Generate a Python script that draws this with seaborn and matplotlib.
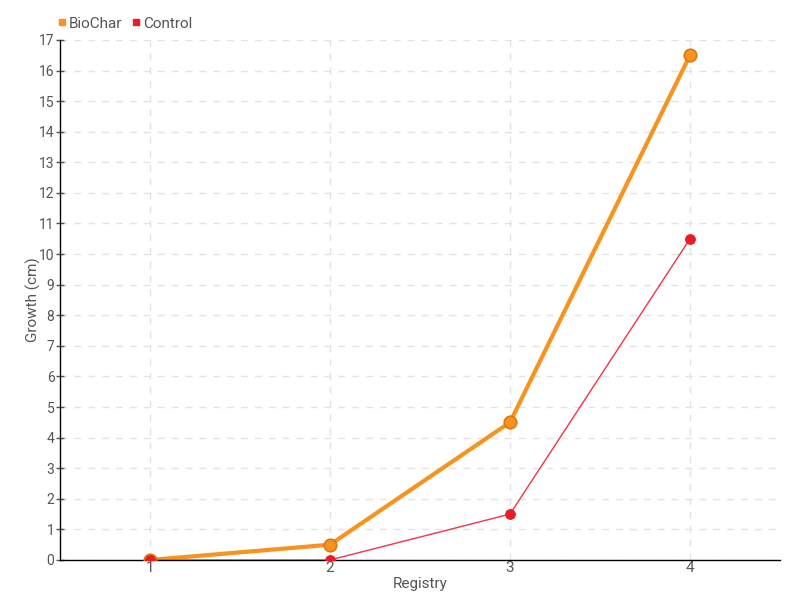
import matplotlib
matplotlib.use("Agg")
import matplotlib.pyplot as plt
import seaborn as sns
import pandas as pd
from matplotlib.lines import Line2D

registry = [1, 2, 3, 4]
biochar = [0, 0.5, 4.5, 16.5]
control = [0, 0, 1.5, 10.5]
series_names = ["BioChar", "Control"]
colors = {"BioChar": "#F7931E", "Control": "#ED1C24"}

df = pd.DataFrame({
    "Registry": registry * 2,
    "Growth": biochar + control,
    "Series": ["BioChar"] * 4 + ["Control"] * 4,
})

sns.set_style("white")
plt.rcParams["font.family"] = ["Roboto", "DejaVu Sans"]

fig = plt.figure(figsize=(8, 6), dpi=100)
ax = fig.add_axes([0.075, 0.0667, 0.9, 0.8667])

sns.lineplot(data=df[df.Series == "BioChar"], x="Registry", y="Growth", ax=ax,
             color=colors["BioChar"], linewidth=3, marker="o", markersize=9,
             markeredgecolor="#D77A12", markeredgewidth=1.2, zorder=3)
sns.lineplot(data=df[df.Series == "Control"], x="Registry", y="Growth", ax=ax,
             color="#F2334A", linewidth=1, marker="o", markersize=7,
             markerfacecolor=colors["Control"], markeredgecolor=colors["Control"], zorder=4)

ax.set_xlim(0.5, 4.5)
ax.set_ylim(0, 17)
ax.set_xticks(registry)
ax.set_xticklabels([str(r) for r in registry])
ax.set_yticks(range(0, 18))
ax.grid(True, linestyle=(0, (5, 5)), color="#E3E3E3", linewidth=1)
for s in ["top", "right"]:
    ax.spines[s].set_visible(False)
for s in ["left", "bottom"]:
    ax.spines[s].set_color("black")
    ax.spines[s].set_linewidth(1)
ax.tick_params(axis="y", direction="inout", length=6, width=1, color="#555555",
               labelsize=10, labelcolor="#555555", left=True, pad=1)
ax.tick_params(axis="x", length=0, labelsize=11, labelcolor="#555555", pad=1)
ax.set_xlabel("Registry", fontsize=11, color="#555555", labelpad=1)
ax.set_ylabel("Growth (cm)", fontsize=11, color="#555555")
ax.yaxis.set_label_coords(-0.027, 0.5)

handles = [Line2D([], [], marker="s", linestyle="none", color=colors[n], markersize=5)
           for n in series_names]
fig.legend(handles, series_names, loc="upper left", bbox_to_anchor=(0.053, 0.995),
           ncol=2, frameon=False, fontsize=11, handletextpad=0.05, columnspacing=0.5,
           handlelength=0.8, labelcolor="#555555")

fig.savefig("out.png", dpi=100)
